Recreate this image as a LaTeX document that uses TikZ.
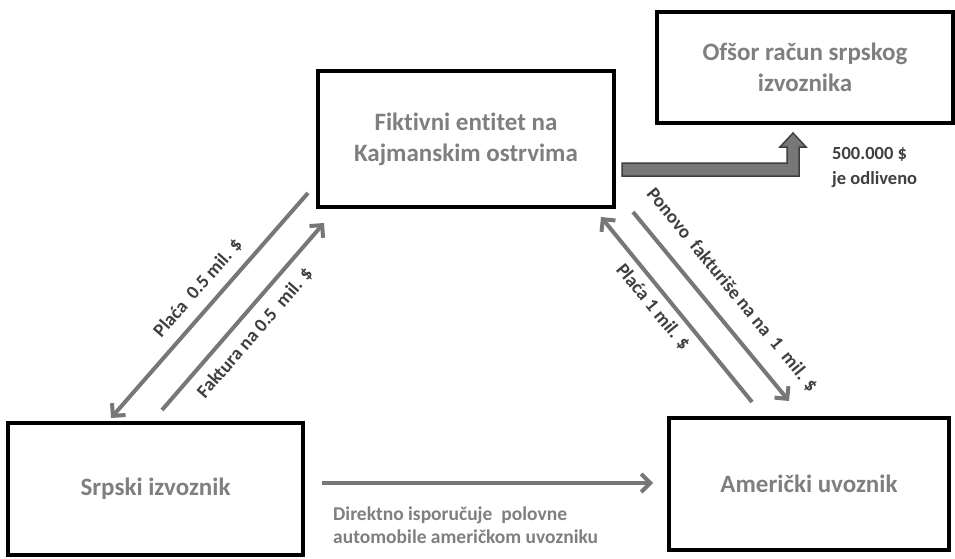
\documentclass[tikz,border=0pt]{standalone}
\usepackage{fontspec}
\setmainfont{Carlito}[Ligatures=NoCommon]
\usetikzlibrary{arrows.meta}
\definecolor{txtgray}{HTML}{7F7F7F}
\definecolor{arrgray}{HTML}{777777}
\definecolor{darkline}{HTML}{3F3F3F}
\begin{document}
\begin{tikzpicture}[x=1pt,y=-1pt,
  box/.style={draw=black,line width=4.5pt,fill=white,text=txtgray,font=\fontsize{25}{31}\selectfont\bfseries,align=center,inner sep=0pt},
  flow/.style={draw=arrgray,line width=4pt,-{Straight Barb[length=9pt,width=18pt,line width=4pt]}},
  lbl/.style={text=darkline,font=\fontsize{19}{22}\selectfont\bfseries,inner sep=0pt},
  lbl2/.style={text=txtgray,font=\fontsize{19.5}{23}\selectfont\bfseries,inner sep=0pt,align=left}]
\useasboundingbox (0,0) rectangle (955,559);
\fill[white] (0,0) rectangle (955,559);
% boxes
\node[box,minimum width=296pt,minimum height=136pt] (fik) at (466,139) {Fiktivni entitet na\\Kajmanskim ostrvima};
\node[box,minimum width=296pt,minimum height=111pt] (ofs) at (805,67.5) {Ofšor račun srpskog\\izvoznika};
\node[box,minimum width=295pt,minimum height=132pt] (srp) at (155.5,489) {Srpski izvoznik};
\node[box,minimum width=280pt,minimum height=132pt] (ame) at (809,484) {Američki uvoznik};
% connector ends
\coordinate (p05a) at (308,193); \coordinate (p05b) at (111,418);
\coordinate (f05a) at (162,410); \coordinate (f05b) at (324,223);
\coordinate (pona) at (633,212); \coordinate (ponb) at (789,401);
\coordinate (p1a) at (752,402);  \coordinate (p1b) at (601,217);
\coordinate (dira) at (322,483); \coordinate (dirb) at (653,483);
% arrows
\draw[flow] (p05a) -- (p05b);
\draw[flow] (f05a) -- (f05b);
\draw[flow] (pona) -- (ponb);
\draw[flow] (p1a) -- (p1b);
\draw[flow] (dira) -- (dirb);
% thick bent arrow
\filldraw[fill=arrgray,draw=darkline,line width=1.5pt,line join=miter]
  (622,163) -- (787,163) -- (787,147) -- (780,147) -- (793,133) -- (806,147) -- (799,147) -- (799,176) -- (622,176) -- cycle;
% labels
\node[lbl,rotate=48.8] (l1) at (198,288) {Plaća\ \ 0.5 mil. \$};
\node[lbl,rotate=49] (l2) at (255,333) {Faktura na 0.5\ \ mil. \$};
\node[lbl,rotate=-50.5] (l3) at (732,290) {Ponovo\ \ fakturiše na na\ \ 1\ \ mil. \$};
\node[lbl,rotate=-50.5] (l4) at (653,307) {Plaća 1 mil. \$};
\node[lbl2,anchor=north west] (l5) at (333,507) {Direktno isporučuje\ \ polovne\\automobile američkom uvozniku};
\node[lbl,anchor=north west,align=left,font=\fontsize{18.5}{25}\selectfont\bfseries] (l6) at (832,147) {500.000 \$\\je odliveno};
\end{tikzpicture}
\end{document}
